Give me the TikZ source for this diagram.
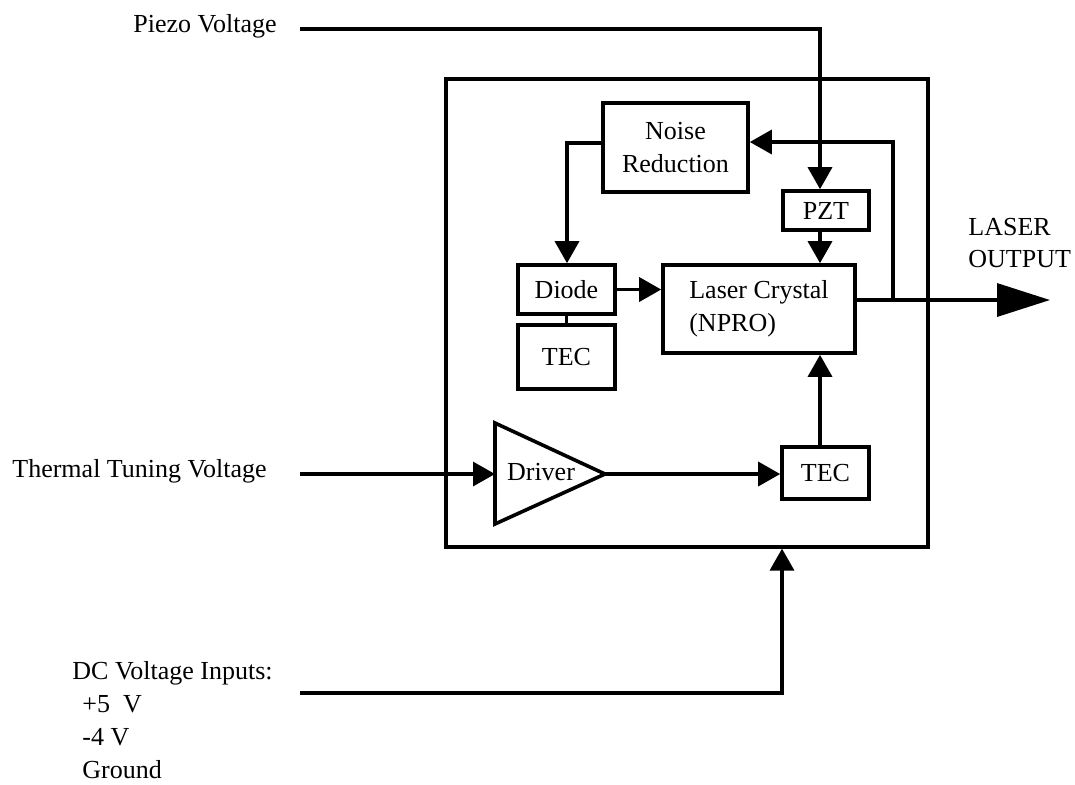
\documentclass[tikz,border=0pt]{standalone}
\usepackage{fontspec}
\setmainfont{Liberation Serif}
\usetikzlibrary{arrows.meta}
\begin{document}
\begin{tikzpicture}[x=0.5pt,y=-0.5pt,
  every node/.style={font=\fontsize{13}{16.4}\selectfont},
  box/.style={draw, line width=1.8pt, inner sep=0pt, align=center},
  lbl/.style={inner sep=0pt, align=left},
  wire/.style={line width=1.7pt},
  arr/.style={line width=1.7pt, -{Triangle[length=11pt,width=12pt]}},
  bigarr/.style={line width=1.7pt, -{Triangle[length=26.5pt,width=16.5pt]}}]
\useasboundingbox (0,0) rectangle (1075,784);
% outer housing
\node[draw, line width=1.6pt, minimum width=241pt, minimum height=234pt] (outer) at (687,313) {};
% blocks
\node[box, minimum width=72.5pt, minimum height=44.5pt] (noise) at (675.5,147.5) {Noise\\Reduction};
\node[box, minimum width=43pt, minimum height=19.5pt] (pzt) at (826,210.5) {PZT};
\node[box, minimum width=48.5pt, minimum height=24.5pt] (diode) at (566.5,289.5) {Diode};
\node[box, minimum width=48.5pt, minimum height=32pt] (tec1) at (566.5,357) {TEC};
\node[box, minimum width=96pt, minimum height=44pt, align=left] (laser) at (759,309) {Laser Crystal\\(NPRO)};
\node[box, minimum width=43.5pt, minimum height=26pt] (tec2) at (825.5,473) {TEC};
% driver amplifier
\coordinate (drvin) at (495,474);
\coordinate (drvout) at (605,474);
\draw[line width=1.8pt, line join=miter] (495,423) -- (drvout) -- (495,524) -- cycle;
\node[lbl] (driver) at (541,472) {Driver};
% labels
\node[lbl, anchor=west] (piezo) at (133,26) {Piezo Voltage};
\node[lbl, anchor=west] (thermal) at (12,471) {Thermal Tuning Voltage};
\node[lbl, anchor=west] (dc) at (72,720) {DC Voltage Inputs:\\\hspace*{5pt}+5~ V\\\hspace*{5pt}-4 V\\\hspace*{5pt}Ground};
\node[lbl, anchor=west] (lo) at (968,243) {LASER\\OUTPUT};
% coordinates
\coordinate (pzin) at (300,29);
\coordinate (pzc) at (820,29);
\coordinate (fbj) at (893,300);
\coordinate (fbtop) at (893,142);
\coordinate (outend) at (1050,300);
\coordinate (nl) at (567,143);
\coordinate (thin) at (300,474);
\coordinate (dcin) at (300,693);
\coordinate (dcc) at (782,693);
% connectors
\draw[arr] (pzin) -- (pzc) -- (pzc |- pzt.north);
\draw[arr] (pzc |- pzt.south) -- (pzc |- laser.north);
\draw[bigarr] (laser.east |- outend) -- (outend);
\draw[arr] (fbj) -- (fbtop) -- (fbtop -| noise.east);
\draw[arr] (nl -| noise.west) -- (nl) -- (nl |- diode.north);
\draw[arr] (diode.east) -- (diode.east -| laser.west);
\draw[wire] (diode.south) -- (tec1.north);
\draw[arr] (thin) -- (drvin);
\draw[arr] (drvout) -- (drvout -| tec2.west);
\draw[arr] (pzc |- tec2.north) -- (pzc |- laser.south);
\draw[arr] (dcin) -- (dcc) -- (dcc |- outer.south);
\end{tikzpicture}
\end{document}
